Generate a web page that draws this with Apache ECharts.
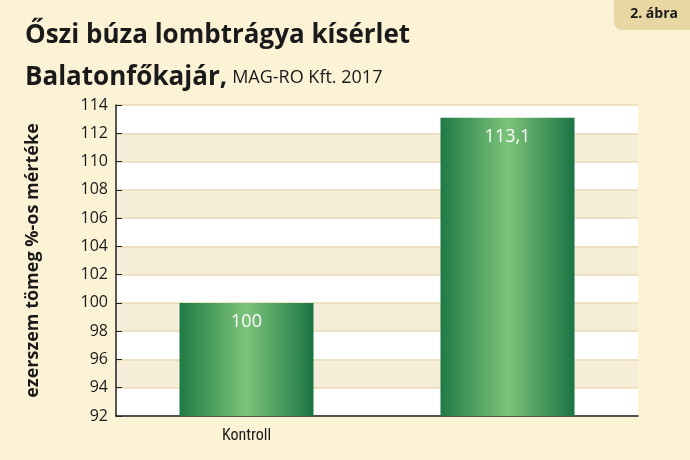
<!DOCTYPE html>
<html><head><meta charset="utf-8">
<script src="https://cdn.jsdelivr.net/npm/echarts@6/dist/echarts.min.js"></script>
<style>html,body{margin:0;padding:0;background:#fcf2d6}#chart{width:690px;height:460px}</style>
</head><body><div id="chart"></div>
<script>
const categories = ['Kontroll', 'GeoLomb kalászos, N20 + Mg, S, Cu'];
const values = [100, 113.1];
const valueLabels = ['100', '113,1'];

const font = '"Open Sans", "Noto Sans", sans-serif';
const barGradient = new echarts.graphic.LinearGradient(0, 0, 1, 0, [
  {offset: 0, color: '#1f7a45'},
  {offset: 0.5, color: '#7cc47a'},
  {offset: 1, color: '#1c7444'}
]);

const myChart = echarts.init(document.getElementById('chart'));
myChart.setOption({
  backgroundColor: '#fcf2d6',
  animation: false,
  title: {
    left: 20, top: 10,
    text: '{b|Őszi búza lombtrágya kísérlet}\n{b|Balatonfőkajár,} {n|MAG-RO Kft. 2017}',
    textStyle: {
      rich: {
        b: {fontFamily: font, fontWeight: 'bold', fontSize: 26, color: '#1a1a1a', lineHeight: 42},
        n: {fontFamily: font, fontWeight: 'normal', fontSize: 18, color: '#1a1a1a', lineHeight: 42}
      }
    }
  },
  graphic: [
    {type: 'rect', right: 0, top: 0, shape: {width: 76, height: 30, r: [0, 0, 0, 8]}, style: {fill: '#e9d7a3'}},
    {type: 'text', right: 12, top: 7, style: {text: '2. ábra', font: 'bold 14px ' + font, fill: '#1a1a1a'}}
  ],
  grid: {left: 116, right: 52, top: 105, bottom: 44},
  xAxis: {
    type: 'category', data: categories,
    axisLine: {lineStyle: {color: '#222', width: 1.5}},
    axisTick: {show: false},
    axisLabel: {fontFamily: '"Liberation Sans Narrow", "Roboto Condensed", ' + font, fontSize: 16, color: '#1a1a1a', margin: 12}
  },
  yAxis: {
    type: 'value', min: 92, max: 114, interval: 2,
    name: 'ezerszem tömeg %-os mértéke', nameLocation: 'middle', nameGap: 74,
    nameTextStyle: {fontFamily: font, fontWeight: 'bold', fontSize: 18, color: '#1a1a1a'},
    axisLine: {show: true, lineStyle: {color: '#222', width: 1.5}},
    axisTick: {show: true, inside: true, length: 6, lineStyle: {color: '#222'}},
    axisLabel: {fontFamily: font, fontSize: 16, color: '#1a1a1a', margin: 8},
    splitLine: {lineStyle: {color: '#ead9b5', width: 1.5}},
    splitArea: {show: true, areaStyle: {color: ['#ffffff', '#f7eeda']}}
  },
  series: [{
    type: 'bar', data: values, barWidth: 134,
    itemStyle: {color: barGradient},
    label: {
      show: true, position: 'insideTop', distance: 10,
      formatter: p => valueLabels[p.dataIndex],
      fontFamily: font, fontSize: 18, color: '#ffffff'
    }
  }]
});
</script></body></html>
